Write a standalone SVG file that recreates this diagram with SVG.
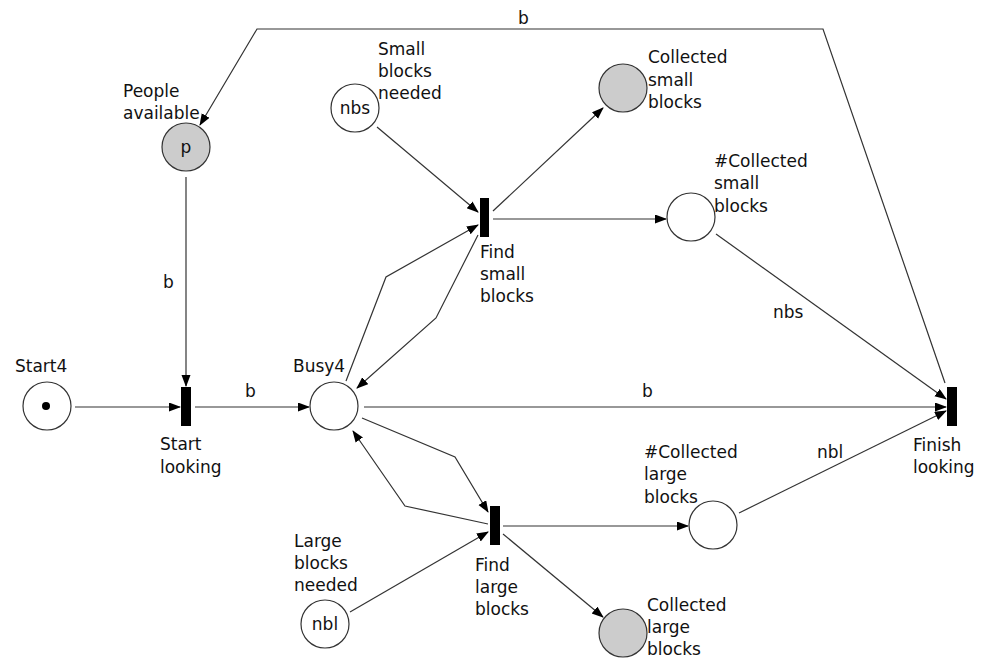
<svg xmlns="http://www.w3.org/2000/svg" width="993" height="658" viewBox="0 0 993 658">
<style>
text{font-family:"DejaVu Sans","Liberation Sans",sans-serif;font-size:17px;fill:#111}
.pl{fill:#fff;stroke:#333;stroke-width:1.2}
.g{fill:#ccc}
.tr{fill:#000}
.c path,.c line,.c polyline{fill:none;stroke:#333;stroke-width:1.2}
.m{text-anchor:middle}
</style>
<defs>
<marker id="a" markerUnits="userSpaceOnUse" markerWidth="12" markerHeight="10" refX="11" refY="4.5" orient="auto">
<path d="M0,0 L12,4.5 L0,9 z" fill="#000"/>
</marker>
</defs>
<rect width="993" height="658" fill="#fff"/>
<g class="c" id="connectors">
<line x1="75" y1="407" x2="180" y2="407" marker-end="url(#a)"/>
<line x1="186" y1="177" x2="186" y2="386" marker-end="url(#a)"/>
<line x1="195" y1="407" x2="309" y2="407" marker-end="url(#a)"/>
<line x1="364" y1="407" x2="946" y2="407" marker-end="url(#a)"/>
<polyline points="346,381 386,277 478,225" marker-end="url(#a)"/>
<polyline points="478,235 436,318 357,388" marker-end="url(#a)"/>
<line x1="377" y1="127" x2="478" y2="212" marker-end="url(#a)"/>
<line x1="493" y1="211" x2="603" y2="108" marker-end="url(#a)"/>
<line x1="493" y1="219" x2="666" y2="219" marker-end="url(#a)"/>
<line x1="716" y1="234" x2="946" y2="399" marker-end="url(#a)"/>
<polyline points="945,383 823,29 257,29 200,125" marker-end="url(#a)"/>
<polyline points="362,418 455,457 488,512" marker-end="url(#a)"/>
<polyline points="488,524 405,506 353,431" marker-end="url(#a)"/>
<line x1="350" y1="612" x2="488" y2="532" marker-end="url(#a)"/>
<line x1="503" y1="526" x2="688" y2="526" marker-end="url(#a)"/>
<line x1="503" y1="534" x2="603" y2="617" marker-end="url(#a)"/>
<line x1="739" y1="513" x2="946" y2="411" marker-end="url(#a)"/>
<text x="518" y="24">b</text>
<text x="163" y="288">b</text>
<text x="245" y="397">b</text>
<text x="642" y="397">b</text>
<text x="773" y="318">nbs</text>
<text x="817" y="458">nbl</text>
</g>
<g id="start4">
<circle class="pl" cx="47" cy="406" r="24"/>
<circle cx="46" cy="406" r="4" fill="#000"/>
<text x="15" y="372">Start4</text>
</g>
<g id="people">
<circle class="pl g" cx="186" cy="147" r="24"/>
<text class="m" x="186" y="153">p</text>
<text x="123" y="97">People</text>
<text x="123" y="119">available</text>
</g>
<g id="nbs">
<circle class="pl" cx="355" cy="108" r="24"/>
<text class="m" x="355" y="114">nbs</text>
<text x="378" y="55">Small</text>
<text x="378" y="77">blocks</text>
<text x="378" y="99">needed</text>
</g>
<g id="collected-small">
<circle class="pl g" cx="623" cy="88" r="24"/>
<text x="648" y="63">Collected</text>
<text x="648" y="86">small</text>
<text x="648" y="108">blocks</text>
</g>
<g id="count-small">
<circle class="pl" cx="691" cy="217" r="24"/>
<text x="714" y="167">#Collected</text>
<text x="714" y="189">small</text>
<text x="714" y="212">blocks</text>
</g>
<g id="busy4">
<circle class="pl" cx="334" cy="406" r="24"/>
<text x="293" y="372">Busy4</text>
</g>
<g id="count-large">
<circle class="pl" cx="713" cy="525" r="24"/>
<text x="644" y="458">#Collected</text>
<text x="644" y="480">large</text>
<text x="644" y="503">blocks</text>
</g>
<g id="nbl">
<circle class="pl" cx="325" cy="624" r="24"/>
<text class="m" x="325" y="630">nbl</text>
<text x="294" y="547">Large</text>
<text x="294" y="569">blocks</text>
<text x="294" y="591">needed</text>
</g>
<g id="collected-large">
<circle class="pl g" cx="623" cy="633" r="24"/>
<text x="647" y="611">Collected</text>
<text x="647" y="633">large</text>
<text x="647" y="655">blocks</text>
</g>
<g id="start-looking">
<rect class="tr" x="181" y="387" width="10" height="39"/>
<text x="160" y="450">Start</text>
<text x="160" y="473">looking</text>
</g>
<g id="find-small">
<rect class="tr" x="480" y="198" width="9" height="39"/>
<text x="480" y="258">Find</text>
<text x="480" y="280">small</text>
<text x="480" y="302">blocks</text>
</g>
<g id="find-large">
<rect class="tr" x="490" y="506" width="10" height="39"/>
<text x="475" y="571">Find</text>
<text x="475" y="593">large</text>
<text x="475" y="615">blocks</text>
</g>
<g id="finish-looking">
<rect class="tr" x="947" y="387" width="10" height="39"/>
<text x="913" y="451">Finish</text>
<text x="913" y="473">looking</text>
</g>
</svg>
